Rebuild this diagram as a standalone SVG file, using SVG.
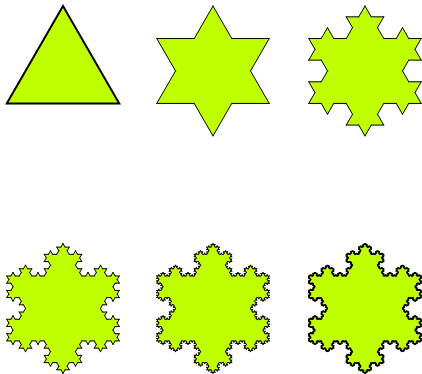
<svg xmlns="http://www.w3.org/2000/svg" xmlns:xlink="http://www.w3.org/1999/xlink" width="422" height="374" viewBox="0 0 422 374">
<style>
.f{fill:#bfff00;stroke:none}
.k{fill:none;stroke:#000;stroke-width:1;vector-effect:non-scaling-stroke;stroke-linecap:round}
</style>
<defs>
<polygon id="f1" class="f" points=".3333333,0 .5,-.2886751 .6666667,0 .5,.06"/>
<g id="f2"><use href="#f1"/><use href="#f1" transform="scale(.3333333)"/><use href="#f1" transform="translate(.3333333,0) rotate(-60) scale(.3333333)"/><use href="#f1" transform="translate(.5,-.2886751) rotate(60) scale(.3333333)"/><use href="#f1" transform="translate(.6666667,0) scale(.3333333)"/></g>
<g id="f3"><use href="#f1"/><use href="#f2" transform="scale(.3333333)"/><use href="#f2" transform="translate(.3333333,0) rotate(-60) scale(.3333333)"/><use href="#f2" transform="translate(.5,-.2886751) rotate(60) scale(.3333333)"/><use href="#f2" transform="translate(.6666667,0) scale(.3333333)"/></g>
<g id="f4"><use href="#f1"/><use href="#f3" transform="scale(.3333333)"/><use href="#f3" transform="translate(.3333333,0) rotate(-60) scale(.3333333)"/><use href="#f3" transform="translate(.5,-.2886751) rotate(60) scale(.3333333)"/><use href="#f3" transform="translate(.6666667,0) scale(.3333333)"/></g>
<g id="f5"><use href="#f1"/><use href="#f4" transform="scale(.3333333)"/><use href="#f4" transform="translate(.3333333,0) rotate(-60) scale(.3333333)"/><use href="#f4" transform="translate(.5,-.2886751) rotate(60) scale(.3333333)"/><use href="#f4" transform="translate(.6666667,0) scale(.3333333)"/></g>
<path id="c0" class="k" d="M0,0H1"/>
<g id="c1"><use href="#c0" transform="scale(.3333333)"/><use href="#c0" transform="translate(.3333333,0) rotate(-60) scale(.3333333)"/><use href="#c0" transform="translate(.5,-.2886751) rotate(60) scale(.3333333)"/><use href="#c0" transform="translate(.6666667,0) scale(.3333333)"/></g>
<g id="c2"><use href="#c1" transform="scale(.3333333)"/><use href="#c1" transform="translate(.3333333,0) rotate(-60) scale(.3333333)"/><use href="#c1" transform="translate(.5,-.2886751) rotate(60) scale(.3333333)"/><use href="#c1" transform="translate(.6666667,0) scale(.3333333)"/></g>
<g id="c3"><use href="#c2" transform="scale(.3333333)"/><use href="#c2" transform="translate(.3333333,0) rotate(-60) scale(.3333333)"/><use href="#c2" transform="translate(.5,-.2886751) rotate(60) scale(.3333333)"/><use href="#c2" transform="translate(.6666667,0) scale(.3333333)"/></g>
<g id="c4"><use href="#c3" transform="scale(.3333333)"/><use href="#c3" transform="translate(.3333333,0) rotate(-60) scale(.3333333)"/><use href="#c3" transform="translate(.5,-.2886751) rotate(60) scale(.3333333)"/><use href="#c3" transform="translate(.6666667,0) scale(.3333333)"/></g>
<g id="c5"><use href="#c4" transform="scale(.3333333)"/><use href="#c4" transform="translate(.3333333,0) rotate(-60) scale(.3333333)"/><use href="#c4" transform="translate(.5,-.2886751) rotate(60) scale(.3333333)"/><use href="#c4" transform="translate(.6666667,0) scale(.3333333)"/></g>
<polygon id="tri" class="f" points="0,0 .5,.8660254 -.5,.8660254"/>
</defs>

<g id="flake0">
<polygon points="63,6 119.25,103.43 6.75,103.43" fill="#bfff00" stroke="#000" stroke-width="2"/>
</g>

<g id="flake1" transform="translate(213,6) scale(112.5)">
<use href="#tri"/>
<use href="#f1" transform="rotate(60)"/><use href="#f1" transform="translate(.5,.8660254) rotate(180)"/><use href="#f1" transform="translate(-.5,.8660254) rotate(-60)"/>
<use href="#c1" transform="rotate(60)"/><use href="#c1" transform="translate(.5,.8660254) rotate(180)"/><use href="#c1" transform="translate(-.5,.8660254) rotate(-60)"/>
</g>

<g id="flake2" transform="translate(365,6) scale(112.5)">
<use href="#tri"/>
<use href="#f2" transform="rotate(60)"/><use href="#f2" transform="translate(.5,.8660254) rotate(180)"/><use href="#f2" transform="translate(-.5,.8660254) rotate(-60)"/>
<use href="#c2" transform="rotate(60)"/><use href="#c2" transform="translate(.5,.8660254) rotate(180)"/><use href="#c2" transform="translate(-.5,.8660254) rotate(-60)"/>
</g>

<g id="flake3" transform="translate(63,243.5) scale(112.5)">
<use href="#tri"/>
<use href="#f3" transform="rotate(60)"/><use href="#f3" transform="translate(.5,.8660254) rotate(180)"/><use href="#f3" transform="translate(-.5,.8660254) rotate(-60)"/>
<use href="#c3" transform="rotate(60)"/><use href="#c3" transform="translate(.5,.8660254) rotate(180)"/><use href="#c3" transform="translate(-.5,.8660254) rotate(-60)"/>
</g>

<g id="flake4" transform="translate(213,243.5) scale(112.5)">
<use href="#tri"/>
<use href="#f4" transform="rotate(60)"/><use href="#f4" transform="translate(.5,.8660254) rotate(180)"/><use href="#f4" transform="translate(-.5,.8660254) rotate(-60)"/>
<use href="#c4" transform="rotate(60)"/><use href="#c4" transform="translate(.5,.8660254) rotate(180)"/><use href="#c4" transform="translate(-.5,.8660254) rotate(-60)"/>
</g>

<g id="flake5" transform="translate(365,243.5) scale(112.5)">
<use href="#tri"/>
<use href="#f5" transform="rotate(60)"/><use href="#f5" transform="translate(.5,.8660254) rotate(180)"/><use href="#f5" transform="translate(-.5,.8660254) rotate(-60)"/>
<use href="#c5" transform="rotate(60)"/><use href="#c5" transform="translate(.5,.8660254) rotate(180)"/><use href="#c5" transform="translate(-.5,.8660254) rotate(-60)"/>
</g>
</svg>
